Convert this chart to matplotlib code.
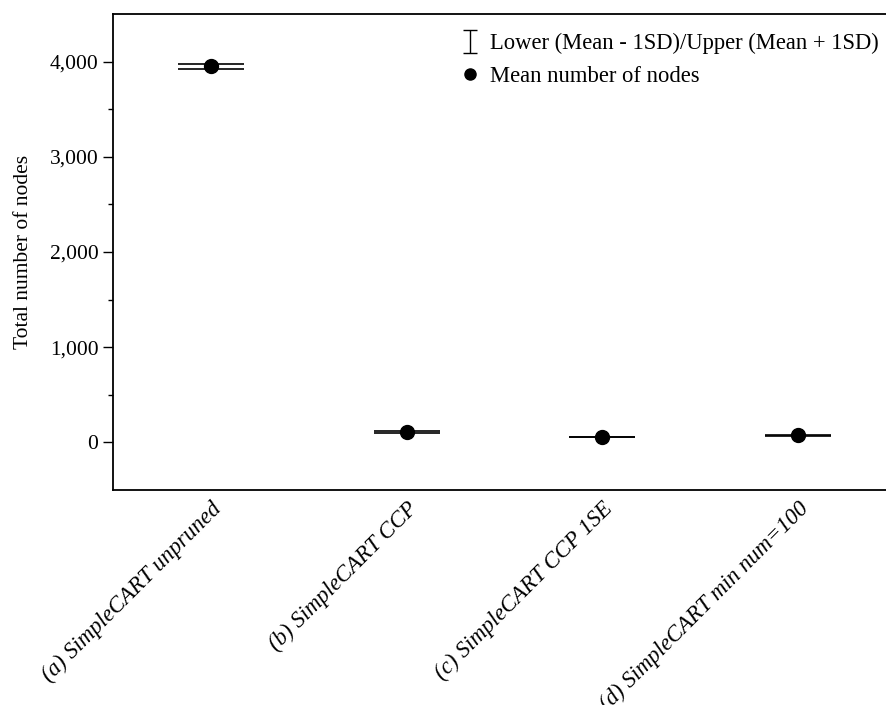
import matplotlib
matplotlib.use("Agg")
import matplotlib.pyplot as plt
import numpy as np
from matplotlib.ticker import FuncFormatter, MultipleLocator, FixedLocator

plt.rcParams["font.family"] = ["Liberation Serif", "DejaVu Serif"]

# Mean and standard deviation of tree size for each pruning setting
methods = [
    "(a) SimpleCART unpruned",
    "(b) SimpleCART CCP",
    "(c) SimpleCART CCP 1SE",
    "(d) SimpleCART min num=100",
]
mean_nodes = [3950, 112, 55, 73]
sd_nodes = [25, 10, 3, 3]

fig = plt.figure(figsize=(8.86, 7.05), dpi=100)
ax = fig.add_axes([0.1275, 0.305, 0.8725, 0.675])

x = np.arange(len(methods))

# small copies only for the legend entries
sd_key = ax.errorbar([np.nan], [np.nan], yerr=[1], fmt="none", ecolor="black",
                     elinewidth=1, capsize=5, capthick=1)
mean_key, = ax.plot([np.nan], [np.nan], "o", color="black", markersize=8,
                    linestyle="none")

# caps at mean +/- 1 SD
ax.errorbar(x, mean_nodes, yerr=sd_nodes, fmt="none", ecolor="black",
            elinewidth=1.2, capsize=23.5, capthick=1.2)
ax.plot(x, mean_nodes, "o", color="black", markersize=10, linestyle="none")

ax.set_xlim(-0.5, 3.45)
ax.set_ylim(-500, 4500)
ax.yaxis.set_major_locator(MultipleLocator(1000))
ax.yaxis.set_minor_locator(FixedLocator([500, 1500, 2500, 3500]))
ax.yaxis.set_major_formatter(FuncFormatter(lambda v, p: f"{v:,.0f}"))
ax.tick_params(axis="y", which="major", direction="out", length=7,
               width=1, labelsize=15.5)
ax.tick_params(axis="y", which="minor", direction="out", length=3.5, width=1)
ax.tick_params(axis="x", length=0, pad=6)

ax.set_xticks(x)
ax.set_xticklabels(methods, rotation=45, ha="right", rotation_mode="anchor",
                   fontsize=16.5, style="italic")
ax.set_ylabel("Total number of nodes", fontsize=15.5, labelpad=12)

ax.spines["right"].set_visible(False)
for side in ["left", "top", "bottom"]:
    ax.spines[side].set_linewidth(1.3)

ax.legend([sd_key, mean_key],
          ["Lower (Mean - 1SD)/Upper (Mean + 1SD)", "Mean number of nodes"],
          loc="upper right", frameon=False, fontsize=16.3,
          handlelength=0.8, handletextpad=0.5, labelspacing=0.5,
          borderaxespad=0.55, bbox_to_anchor=(1.019, 1.005))

fig.savefig("out.png", dpi=100)
